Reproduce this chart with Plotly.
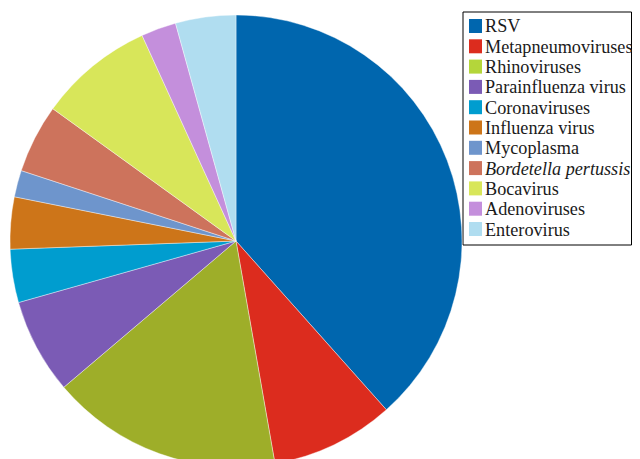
import plotly.graph_objects as go

categories = ["RSV", "Metapneumoviruses", "Rhinoviruses", "Parainfluenza virus",
              "Coronaviruses", "Influenza virus", "Mycoplasma", "Bordetella pertussis",
              "Bocavirus", "Adenoviruses", "Enterovirus"]
legend_labels = ["RSV", "Metapneumoviruses", "Rhinoviruses", "Parainfluenza virus",
                 "Coronaviruses", "Influenza virus", "Mycoplasma", "<i>Bordetella pertussis</i>",
                 "Bocavirus", "Adenoviruses", "Enterovirus"]
values = [38.3, 8.8, 16.5, 6.8, 3.8, 3.7, 1.9, 4.9, 8.2, 2.5, 4.3]
slice_colors = ["#0066AE", "#DC2C1E", "#9EAE29", "#7B5BB5", "#009DCF", "#CD7519",
                "#6E95CC", "#CD735C", "#D8E65A", "#C48FDC", "#B0DDF0"]
legend_colors = ["#0066AE", "#DC2C1E", "#B4D63A", "#7B5BB5", "#009DCF", "#CD7519",
                 "#6E95CC", "#CD735C", "#D8E65A", "#C48FDC", "#B0DDF0"]

# page body has an 8px margin; work in page pixels and convert
OFF = 8
W, H = 624, 462

def px(x):
    return (x - OFF) / W

def py(y):
    return 1 - (y - OFF) / H

cx, cy, r = 236, 241, 226

fig = go.Figure(go.Pie(
    labels=categories,
    values=values,
    marker=dict(colors=slice_colors, line=dict(color="white", width=0.4)),
    sort=False,
    direction="clockwise",
    rotation=0,
    textinfo="none",
    hoverinfo="label+value",
    domain=dict(x=[px(cx - r), px(cx + r)], y=[py(cy + r), py(cy - r)]),
    showlegend=False,
))

shapes = [dict(type="rect", xref="paper", yref="paper",
               x0=px(463), x1=px(631.5), y0=py(12), y1=py(245),
               line=dict(color="black", width=1), fillcolor="white", layer="below")]
annotations = []
row_h = 20.3
for i, (lab, col) in enumerate(zip(legend_labels, legend_colors)):
    top = 19 + i * row_h
    shapes.append(dict(type="rect", xref="paper", yref="paper",
                       x0=px(469), x1=px(482), y0=py(top + 14), y1=py(top),
                       line=dict(width=0), fillcolor=col))
    annotations.append(dict(x=px(482.5), y=py(top + 7.5), xref="paper", yref="paper",
                            text=lab, showarrow=False, xanchor="left", yanchor="middle",
                            font=dict(family="Liberation Serif", size=18.2, color="#1a1a1a")))

fig.update_layout(
    width=W, height=H,
    margin=dict(l=0, r=0, t=0, b=0),
    paper_bgcolor="white",
    plot_bgcolor="white",
    shapes=shapes,
    annotations=annotations,
)

fig.write_html("out.html")
